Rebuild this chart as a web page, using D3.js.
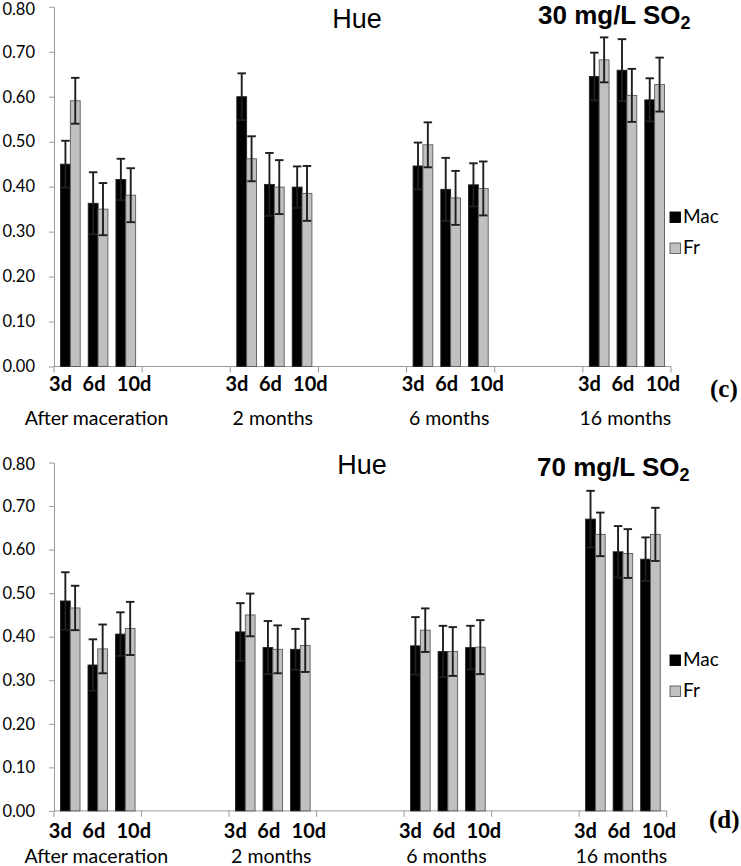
<!DOCTYPE html>
<html>
<head>
<meta charset="utf-8">
<script src="https://cdn.jsdelivr.net/npm/d3@7/dist/d3.min.js"></script>
<style>
  html, body { margin: 0; padding: 0; background: #fff; }
  svg { display: block; }
</style>
</head>
<body>
<svg id="chart" width="741" height="866"></svg>
<script>
// ---------------- DATA ----------------
const periods = ["After maceration", "2 months", "6 months", "16 months"];
const days = ["3d", "6d", "10d"];
const seriesNames = ["Mac", "Fr"];
const yTickValues = [0, 0.1, 0.2, 0.3, 0.4, 0.5, 0.6, 0.7, 0.8];

// Panel (c): 30 mg/L SO2 — values in order period x day
const mac30 = [0.450, 0.363, 0.416, 0.600, 0.405, 0.399, 0.446, 0.394, 0.404, 0.645, 0.659, 0.593];
const fr30  = [0.591, 0.350, 0.381, 0.462, 0.399, 0.385, 0.493, 0.375, 0.396, 0.682, 0.603, 0.627];
const macErr30 = [0.052, 0.069, 0.046, 0.052, 0.070, 0.046, 0.052, 0.070, 0.048, 0.053, 0.069, 0.048];
const frErr30  = [0.051, 0.058, 0.060, 0.050, 0.060, 0.061, 0.050, 0.060, 0.060, 0.050, 0.059, 0.060];

// Panel (d): 70 mg/L SO2
const mac70 = [0.482, 0.335, 0.406, 0.411, 0.375, 0.371, 0.379, 0.366, 0.375, 0.670, 0.595, 0.578];
const fr70  = [0.466, 0.372, 0.419, 0.450, 0.371, 0.380, 0.415, 0.366, 0.376, 0.635, 0.591, 0.635];
const macErr70 = [0.066, 0.059, 0.050, 0.066, 0.061, 0.047, 0.066, 0.059, 0.050, 0.065, 0.059, 0.050];
const frErr70  = [0.051, 0.056, 0.061, 0.049, 0.055, 0.061, 0.050, 0.056, 0.062, 0.050, 0.056, 0.061];

const titleText = "Hue";
const doseC = "30 mg/L SO";
const doseD = "70 mg/L SO";
// ---------------------------------------

const svg = d3.select("#chart");
const CAL = "Lato, 'Open Sans', sans-serif";
const ARIAL = "'Liberation Sans', Arial, sans-serif";
const TIMES = "'Liberation Serif', 'Times New Roman', serif";
const AXIS_COLOR = "#9a9a9a";

// slots: each period followed by an empty slot, last has none
const slots = [];
periods.forEach((p, i) => { slots.push(p); if (i < periods.length - 1) slots.push("__gap" + i); });

function drawPanel(cfg) {
  const g = svg.append("g");
  const x0 = d3.scaleBand().domain(slots).range([cfg.x0, cfg.x1]).padding(0);
  const x1 = d3.scalePoint().domain(days).range([0, x0.bandwidth()]).padding(0.59);
  const barW = x1.step() * 0.355;
  const xs = d3.scaleBand().domain(seriesNames).range([-barW, barW]).padding(0);
  const y = d3.scaleLinear().domain([0, 0.8]).range([cfg.yBottom, cfg.yTop]);

  const rows = [];
  periods.forEach((p, pi) => days.forEach((d, di) => {
    const k = pi * 3 + di;
    rows.push({ p, d, s: "Mac", v: cfg.mac[k], e: cfg.macErr[k] });
    rows.push({ p, d, s: "Fr", v: cfg.fr[k], e: cfg.frErr[k] });
  }));
  const cx = r => x0(r.p) + x1(r.d) + xs(r.s);

  // Y axis
  const yAxis = d3.axisLeft(y).tickValues(yTickValues).tickFormat(d3.format(".2f"))
    .tickSizeInner(5).tickSizeOuter(0).tickPadding(14);
  const ya = g.append("g").attr("transform", `translate(${cfg.x0},0)`).call(yAxis);
  ya.select(".domain").attr("stroke", AXIS_COLOR);
  ya.selectAll(".tick line").attr("stroke", AXIS_COLOR);
  ya.selectAll(".tick text").attr("fill", "#000").style("font-family", CAL).style("font-size", "16.5px")
    .attr("dy", (d) => d === 0.8 ? "0.45em" : "0.32em");

  // X axis: ticks at slot boundaries
  const bounds = slots.map(s => x0(s)).concat([cfg.x1]);
  const xg = g.append("g");
  xg.append("line").attr("x1", cfg.x0).attr("x2", cfg.x1).attr("y1", cfg.yBottom).attr("y2", cfg.yBottom)
    .attr("stroke", AXIS_COLOR).attr("stroke-width", 1);
  xg.selectAll("line.tk").data(bounds).join("line").attr("class", "tk")
    .attr("x1", d => d).attr("x2", d => d).attr("y1", cfg.yBottom).attr("y2", cfg.yBottom + 6)
    .attr("stroke", AXIS_COLOR).attr("stroke-width", 1);

  // Bars
  g.selectAll("rect.bar").data(rows).join("rect").attr("class", "bar")
    .attr("x", r => cx(r)).attr("width", xs.bandwidth())
    .attr("y", r => y(r.v)).attr("height", r => y(0) - y(r.v))
    .attr("fill", r => r.s === "Mac" ? "#000" : "#c0c0c0")
    .attr("stroke", r => r.s === "Mac" ? "#222" : "#5a5a5a").attr("stroke-width", 0.9);

  // Error bars
  const capW = 8.5;
  const eg = g.selectAll("g.err").data(rows).join("g").attr("class", "err");
  eg.append("line")
    .attr("x1", r => cx(r) + xs.bandwidth() / 2).attr("x2", r => cx(r) + xs.bandwidth() / 2)
    .attr("y1", r => y(r.v - r.e)).attr("y2", r => y(r.v + r.e));
  eg.append("line")
    .attr("x1", r => cx(r) + xs.bandwidth() / 2 - capW / 2).attr("x2", r => cx(r) + xs.bandwidth() / 2 + capW / 2)
    .attr("y1", r => y(r.v + r.e)).attr("y2", r => y(r.v + r.e));
  eg.append("line")
    .attr("x1", r => cx(r) + xs.bandwidth() / 2 - capW / 2).attr("x2", r => cx(r) + xs.bandwidth() / 2 + capW / 2)
    .attr("y1", r => y(r.v - r.e)).attr("y2", r => y(r.v - r.e));
  eg.selectAll("line").attr("stroke", "#1e1e1e").attr("stroke-width", 1.9);

  // Day labels and period labels
  const dayOff = { "3d": -37.5, "6d": -4, "10d": 36 };
  periods.forEach(p => {
    const c = x0(p) + x0.bandwidth() / 2;
    days.forEach(d => {
      g.append("text").attr("x", c + dayOff[d]).attr("y", cfg.dayY)
        .attr("text-anchor", "middle").style("font-family", CAL).style("font-weight", 700)
        .style("font-size", "20px").text(d);
    });
    g.append("text").attr("x", c - 1.5).attr("y", cfg.perY)
      .attr("text-anchor", "middle").style("font-family", CAL).style("font-size", "19.5px").text(p);
  });

  // Title
  g.append("text").attr("x", cfg.titleX).attr("y", cfg.titleY).attr("text-anchor", "middle")
    .style("font-family", ARIAL).style("font-size", "27px").text(titleText);
  const dose = g.append("text").attr("x", cfg.doseX).attr("y", cfg.doseY)
    .style("font-family", ARIAL).style("font-weight", 700).style("font-size", "26px");
  dose.append("tspan").text(cfg.dose);
  dose.append("tspan").attr("dy", 5).style("font-size", "18px").text("2");

  // Legend
  seriesNames.forEach((s, i) => {
    const ly = cfg.legY + i * cfg.legStep;
    g.append("rect").attr("x", 670).attr("y", ly).attr("width", 10.5).attr("height", 10.5)
      .attr("fill", s === "Mac" ? "#000" : "#c0c0c0").attr("stroke", s === "Mac" ? "#000" : "#5a5a5a")
      .attr("stroke-width", 0.9);
    g.append("text").attr("x", 683).attr("y", ly + 11).style("font-family", CAL).style("font-size", "19px").text(s);
  });

  // Panel letter
  g.append("text").attr("x", cfg.letterX).attr("y", cfg.letterY)
    .style("font-family", TIMES).style("font-weight", 700).style("font-size", "25px").text(cfg.letter);
}

drawPanel({
  x0: 54, x1: 671, yBottom: 366.5, yTop: 6.8,
  mac: mac30, fr: fr30, macErr: macErr30, frErr: frErr30,
  dayY: 390.5, perY: 425, titleX: 357, titleY: 27.5, doseX: 538, doseY: 24, dose: doseC,
  legY: 212, legStep: 31, letter: "(c)", letterX: 710, letterY: 397
});

drawPanel({
  x0: 54, x1: 666.7, yBottom: 810.9, yTop: 462.5,
  mac: mac70, fr: fr70, macErr: macErr70, frErr: frErr70,
  dayY: 838, perY: 862.5, titleX: 362, titleY: 473.5, doseX: 537, doseY: 476, dose: doseD,
  legY: 655, legStep: 31, letter: "(d)", letterX: 709, letterY: 828
});
</script>
</body>
</html>
